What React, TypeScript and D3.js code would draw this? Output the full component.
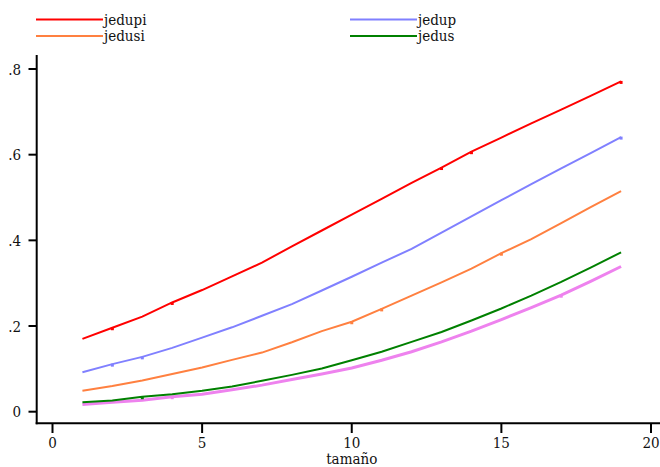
import React from 'react';
import * as d3 from 'd3';

// tamaño 1..19
const sizes = d3.range(1, 20);

const jedupi = [0.170, 0.196, 0.222, 0.255, 0.284, 0.316, 0.348, 0.386, 0.423, 0.460, 0.497, 0.534, 0.570, 0.607, 0.640, 0.673, 0.705, 0.738, 0.771];
const jedup = [0.092, 0.111, 0.128, 0.149, 0.173, 0.197, 0.224, 0.251, 0.283, 0.315, 0.348, 0.380, 0.418, 0.456, 0.494, 0.531, 0.568, 0.604, 0.641];
const jedusi = [0.049, 0.060, 0.073, 0.088, 0.103, 0.121, 0.138, 0.162, 0.188, 0.210, 0.240, 0.271, 0.302, 0.334, 0.370, 0.403, 0.440, 0.478, 0.515];
const jedus = [0.022, 0.026, 0.035, 0.041, 0.049, 0.059, 0.072, 0.086, 0.101, 0.120, 0.140, 0.163, 0.186, 0.213, 0.241, 0.271, 0.303, 0.337, 0.372];
const extra = [0.017, 0.022, 0.027, 0.035, 0.041, 0.051, 0.062, 0.075, 0.088, 0.102, 0.120, 0.140, 0.163, 0.188, 0.215, 0.243, 0.272, 0.305, 0.339];

const xTicks = [0, 5, 10, 15, 20];
const yTicks = [0, 0.2, 0.4, 0.6, 0.8];
const yTickLabels = ['0', '.2', '.4', '.6', '.8'];

const series = [
  { name: '', values: extra, color: '#ee82ee', width: 3, marks: [4, 17] },
  { name: 'jedupi', values: jedupi, color: '#ff0000', width: 2, marks: [2, 4, 13, 14, 19] },
  { name: 'jedup', values: jedup, color: '#8080ff', width: 2, marks: [2, 3, 19] },
  { name: 'jedusi', values: jedusi, color: '#ff8040', width: 2, marks: [10, 11, 15] },
  { name: 'jedus', values: jedus, color: '#008000', width: 2, marks: [3] },
];

const legendItems = [
  { name: 'jedupi', color: '#ff0000', col: 0, row: 0 },
  { name: 'jedup', color: '#8080ff', col: 1, row: 0 },
  { name: 'jedusi', color: '#ff8040', col: 0, row: 1 },
  { name: 'jedus', color: '#008000', col: 1, row: 1 },
];

const txt: React.CSSProperties = { fontFamily: "'DejaVu Serif Condensed', 'DejaVu Serif', serif", fontSize: '15px' };

export default function App() {
  const x = d3.scaleLinear().domain([0, 20]).range([52.5, 651]);
  const y = d3.scaleLinear().domain([0, 0.8]).range([411.7, 69]);
  const axisX = 36.7;
  const axisY = 423.3;

  const line = d3
    .line<number>()
    .x((_, i) => x(sizes[i]))
    .y(d => y(d));

  return (
    <svg width={660} height={467} style={{ position: 'absolute', left: 0, top: 0, background: '#fff' }}>
      {/* legend */}
      {legendItems.map(l => {
        const lx = l.col === 0 ? 36 : 350;
        const ly = l.row === 0 ? 19.5 : 36;
        return (
          <g key={l.name}>
            <line x1={lx} x2={lx + 67} y1={ly} y2={ly} stroke={l.color} strokeWidth={2} />
            <text x={lx + 68} y={ly + 5} style={txt} fill="#111">{l.name}</text>
          </g>
        );
      })}

      {/* axes */}
      <line x1={axisX} x2={axisX} y1={55} y2={axisY + 1} stroke="#000" strokeWidth={2} />
      <line x1={axisX - 1} x2={660} y1={axisY} y2={axisY} stroke="#000" strokeWidth={2} />
      {yTicks.map((t, i) => (
        <g key={t}>
          <line x1={28.5} x2={axisX} y1={y(t)} y2={y(t)} stroke="#000" strokeWidth={2} />
          <text x={21} y={y(t) + 5.5} style={txt} textAnchor="end" fill="#111">{yTickLabels[i]}</text>
        </g>
      ))}
      {xTicks.map(t => (
        <g key={t}>
          <line x1={x(t)} x2={x(t)} y1={axisY} y2={433} stroke="#000" strokeWidth={2} />
          <text x={x(t)} y={447.5} style={txt} textAnchor="middle" fill="#111">{t}</text>
        </g>
      ))}
      <text x={x(10)} y={464} style={txt} textAnchor="middle" fill="#111">tamaño</text>

      {/* series */}
      {series.map((s, k) => (
        <g key={k}>
          <path d={line(s.values) ?? ''} fill="none" stroke={s.color} strokeWidth={s.width} />
          {s.marks.map(m => (
            <rect key={m} x={x(m) - 1.5} y={y(s.values[m - 1]) - 0.5} width={3} height={3} fill={s.color} />
          ))}
        </g>
      ))}
    </svg>
  );
}
